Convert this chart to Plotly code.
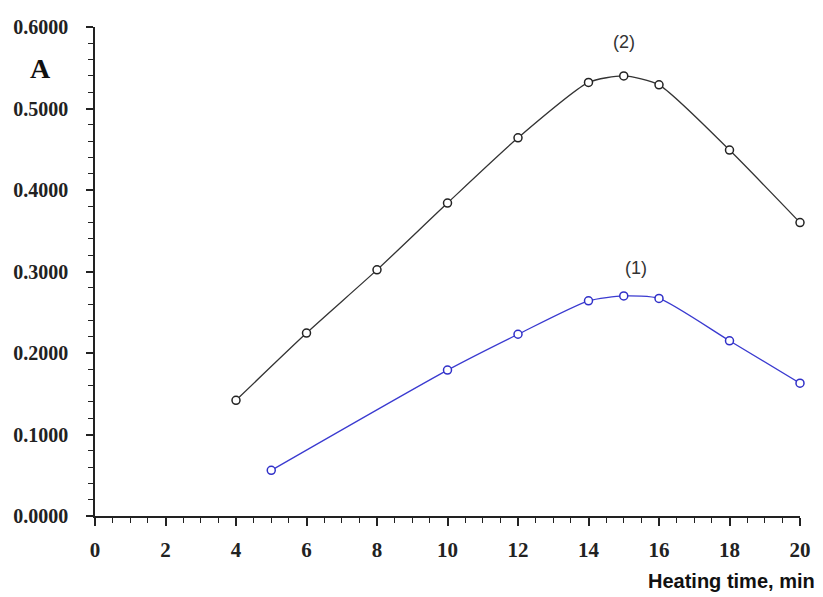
import plotly.graph_objects as go

# Data
x1 = [5, 10, 12, 14, 15, 16, 18, 20]
y1 = [0.056, 0.179, 0.223, 0.264, 0.270, 0.267, 0.215, 0.163]
x2 = [4, 6, 8, 10, 12, 14, 15, 16, 18, 20]
y2 = [0.142, 0.2245, 0.302, 0.384, 0.464, 0.532, 0.540, 0.529, 0.449, 0.360]
x_ticks = [0, 2, 4, 6, 8, 10, 12, 14, 16, 18, 20]
y_ticks = [0.0, 0.1, 0.2, 0.3, 0.4, 0.5, 0.6]
y_ticklabels = ["0.0000", "0.1000", "0.2000", "0.3000", "0.4000", "0.5000", "0.6000"]

fig = go.Figure()
fig.add_trace(go.Scatter(
    x=x2, y=y2, mode="lines+markers",
    line=dict(color="#333333", width=1.3, shape="spline", smoothing=0.6),
    marker=dict(symbol="circle", size=8, color="white", line=dict(color="#222222", width=1.5)),
    showlegend=False, cliponaxis=False))
fig.add_trace(go.Scatter(
    x=x1, y=y1, mode="lines+markers",
    line=dict(color="#3a3ad0", width=1.3, shape="spline", smoothing=0.6),
    marker=dict(symbol="circle", size=8, color="white", line=dict(color="#3030c8", width=1.5)),
    showlegend=False, cliponaxis=False))

serif = "Liberation Serif, Times New Roman, serif"
sans = "Liberation Sans, Arial, sans-serif"

fig.update_layout(
    width=823, height=597,
    margin=dict(l=95, r=20, t=27, b=81),
    paper_bgcolor="white", plot_bgcolor="white",
    xaxis=dict(range=[0, 20], tickvals=x_ticks, ticktext=["<b>%d</b>" % v for v in x_ticks],
               showgrid=False, zeroline=False, showline=True, linecolor="#222222", linewidth=1.5,
               ticks="outside", ticklen=8, tickwidth=1.5, tickcolor="#222222",
               minor=dict(dtick=0.5, ticks="outside", ticklen=5, tickwidth=1.3, tickcolor="#222222"),
               tickfont=dict(family=serif, size=21, color="#222222"), ticklabelstandoff=6),
    yaxis=dict(range=[0, 0.6], tickvals=y_ticks, ticktext=["<b>%s</b>" % t for t in y_ticklabels],
               showgrid=False, zeroline=False, showline=True, linecolor="#222222", linewidth=1.5,
               ticks="outside", ticklen=7, tickwidth=1.5, tickcolor="#222222",
               minor=dict(dtick=0.02, ticks="outside", ticklen=5, tickwidth=1.3, tickcolor="#222222"),
               tickfont=dict(family=serif, size=20, color="#222222"), ticklabelstandoff=14),
    annotations=[
        dict(x=15, y=0.540, xref="x", yref="y", text="(2)", showarrow=False, yshift=34,
             font=dict(family=sans, size=18, color="#333333")),
        dict(x=15.35, y=0.270, xref="x", yref="y", text="(1)", showarrow=False, yshift=28,
             font=dict(family=sans, size=18, color="#333333")),
        dict(x=(40 - 95) / 708, y=(516 - 68) / 489, xref="paper", yref="paper", text="<b>A</b>",
             xanchor="center", yanchor="middle",
             showarrow=False, font=dict(family=serif, size=28, color="#111111")),
        dict(x=(820 - 95) / 708, y=(516 - 581) / 489, xref="paper", yref="paper",
             xanchor="right", yanchor="middle", text="<b>Heating time, min</b>", showarrow=False,
             font=dict(family=sans, size=20, color="#111111")),
    ],
)

fig.write_html("out.html", config={"displayModeBar": False},
               post_script="document.body.style.margin='0';")
